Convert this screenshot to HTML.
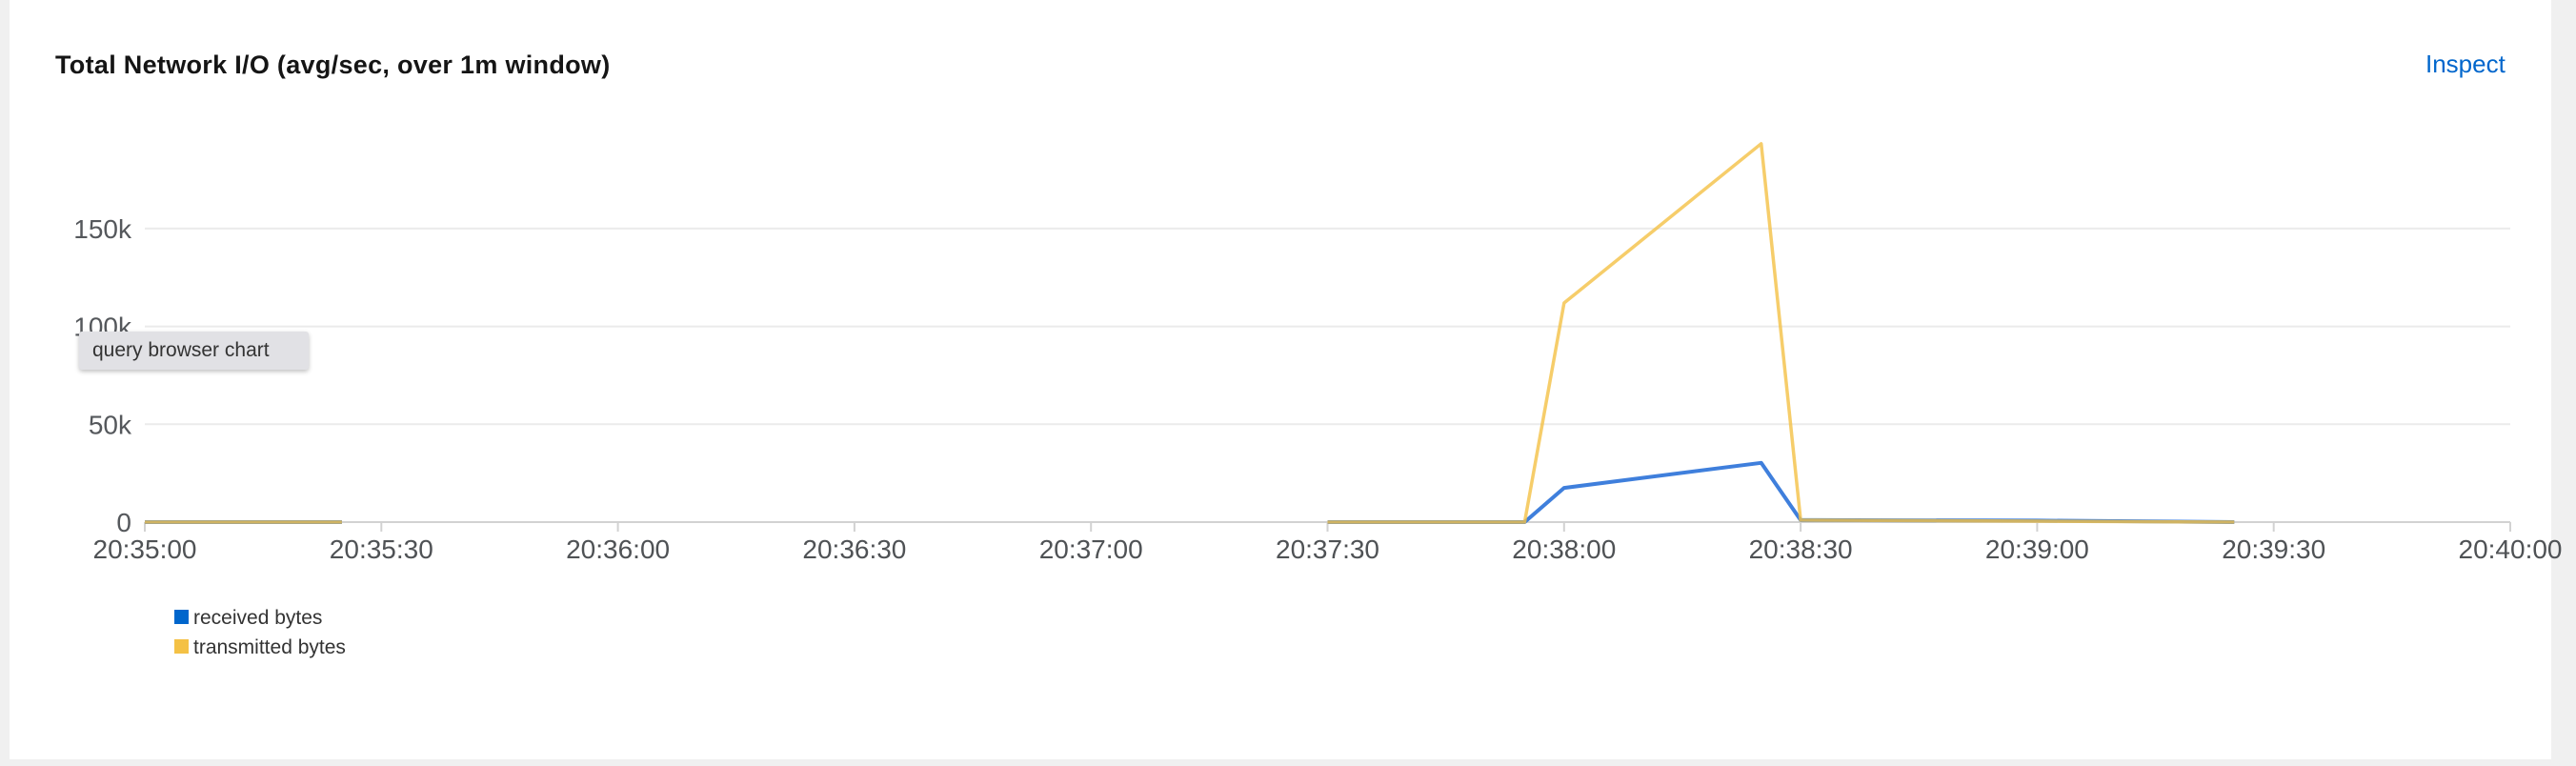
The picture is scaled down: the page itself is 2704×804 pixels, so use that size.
<!DOCTYPE html>
<html><head><meta charset="utf-8"><style>
html,body{margin:0;padding:0;width:2704px;height:804px;background:#f0f0f0;overflow:hidden;font-family:"Liberation Sans",sans-serif;}
#card{position:absolute;left:10px;top:0;width:2668px;height:797px;background:#fff;}
#title{position:absolute;left:58px;top:53px;font-size:27px;font-weight:bold;color:#151515;letter-spacing:0.3px;}
#inspect{position:absolute;left:2546px;top:52px;font-size:26px;color:#0066cc;text-decoration:none;}
#tooltip{position:absolute;left:83px;top:348px;width:241px;height:40px;background:#e1e1e5;border-radius:3px;box-shadow:0 2px 5px rgba(0,0,0,0.25);font-size:21px;color:#333;line-height:40px;text-indent:14px;}
svg{position:absolute;left:0;top:0;}
</style></head><body>
<div id="card"></div>
<div id="title">Total Network I/O (avg/sec, over 1m window)</div>
<a id="inspect" href="#">Inspect</a>
<svg id="chart" width="2704" height="804"></svg>
<div id="tooltip">query browser chart</div>
<script>
const times = [0, 25, 26, 150, 175, 180, 205, 210, 240, 265];
const received = [0, 0, null, 0, 0, 17500, 30300, 1000, 800, 0];
const transmitted = [0, 0, null, 0, 0, 112000, 193400, 1000, 500, 0];
const yTicks = [0, 50000, 100000, 150000];
const yTickLabels = ["0", "50k", "100k", "150k"];
const xTicks = [0, 30, 60, 90, 120, 150, 180, 210, 240, 270, 300];
const xTickLabels = ["20:35:00","20:35:30","20:36:00","20:36:30","20:37:00","20:37:30","20:38:00","20:38:30","20:39:00","20:39:30","20:40:00"];

const X0 = 152, X1 = 2635, Y0 = 548, PX50K = 102.7;
function xs(t){ return X0 + (X1 - X0) * t / 300; }
function ys(v){ return Y0 - v / 50000 * PX50K; }
const NS = "http://www.w3.org/2000/svg";
const svg = document.getElementById('chart');
function mk(tag, attrs){ const e = document.createElementNS(NS, tag); for (const k in attrs) e.setAttribute(k, attrs[k]); svg.appendChild(e); return e; }

yTicks.forEach((v, i) => {
  const g = mk('line', {x1: X0, x2: X1, y1: ys(v), y2: ys(v), stroke: i === 0 ? '#d2d2d2' : '#ebebeb', 'stroke-width': 2});
  
  
  const t = mk('text', {x: 138, y: ys(v) + 10, 'text-anchor': 'end', 'font-size': 28, fill: '#55585c', 'font-family': 'Liberation Sans, sans-serif'});
  t.textContent = yTickLabels[i];
  
  
});
xTicks.forEach((s, i) => {
  const tk = mk('line', {x1: xs(s), x2: xs(s), y1: Y0, y2: Y0 + 10, stroke: '#d2d2d2', 'stroke-width': 2});
  
  
  const t = mk('text', {x: xs(s), y: Y0 + 38, 'text-anchor': 'middle', 'font-size': 28, fill: '#4f5255', 'font-family': 'Liberation Sans, sans-serif'});
  t.textContent = xTickLabels[i];
  
  
});
function pathFor(vals){
  let d = '', pen = false;
  vals.forEach((v, i) => {
    if (v === null) { pen = false; return; }
    d += (pen ? 'L' : 'M') + xs(times[i]).toFixed(1) + ' ' + ys(v).toFixed(1) + ' ';
    pen = true;
  });
  return d;
}
const pr = mk('path', {d: pathFor(received), fill: 'none', stroke: '#3f7fdc', 'stroke-width': 4, 'stroke-linejoin': 'round'});


const pt = mk('path', {d: pathFor(transmitted), fill: 'none', stroke: '#f4c145', 'stroke-opacity': 0.8, 'stroke-width': 3.5, 'stroke-linejoin': 'round'});



const legend = [['received bytes', '#0066cc', 648], ['transmitted bytes', '#f4c145', 679]];
legend.forEach(l => {
  const r = mk('rect', {x: 183, y: l[2] - 8, width: 15, height: 15, fill: l[1]});
  
  
  const t = mk('text', {x: 203, y: l[2] + 7, 'font-size': 21, fill: '#333', 'font-family': 'Liberation Sans, sans-serif'});
  t.textContent = l[0];
  
  
});
</script>
</body></html>
